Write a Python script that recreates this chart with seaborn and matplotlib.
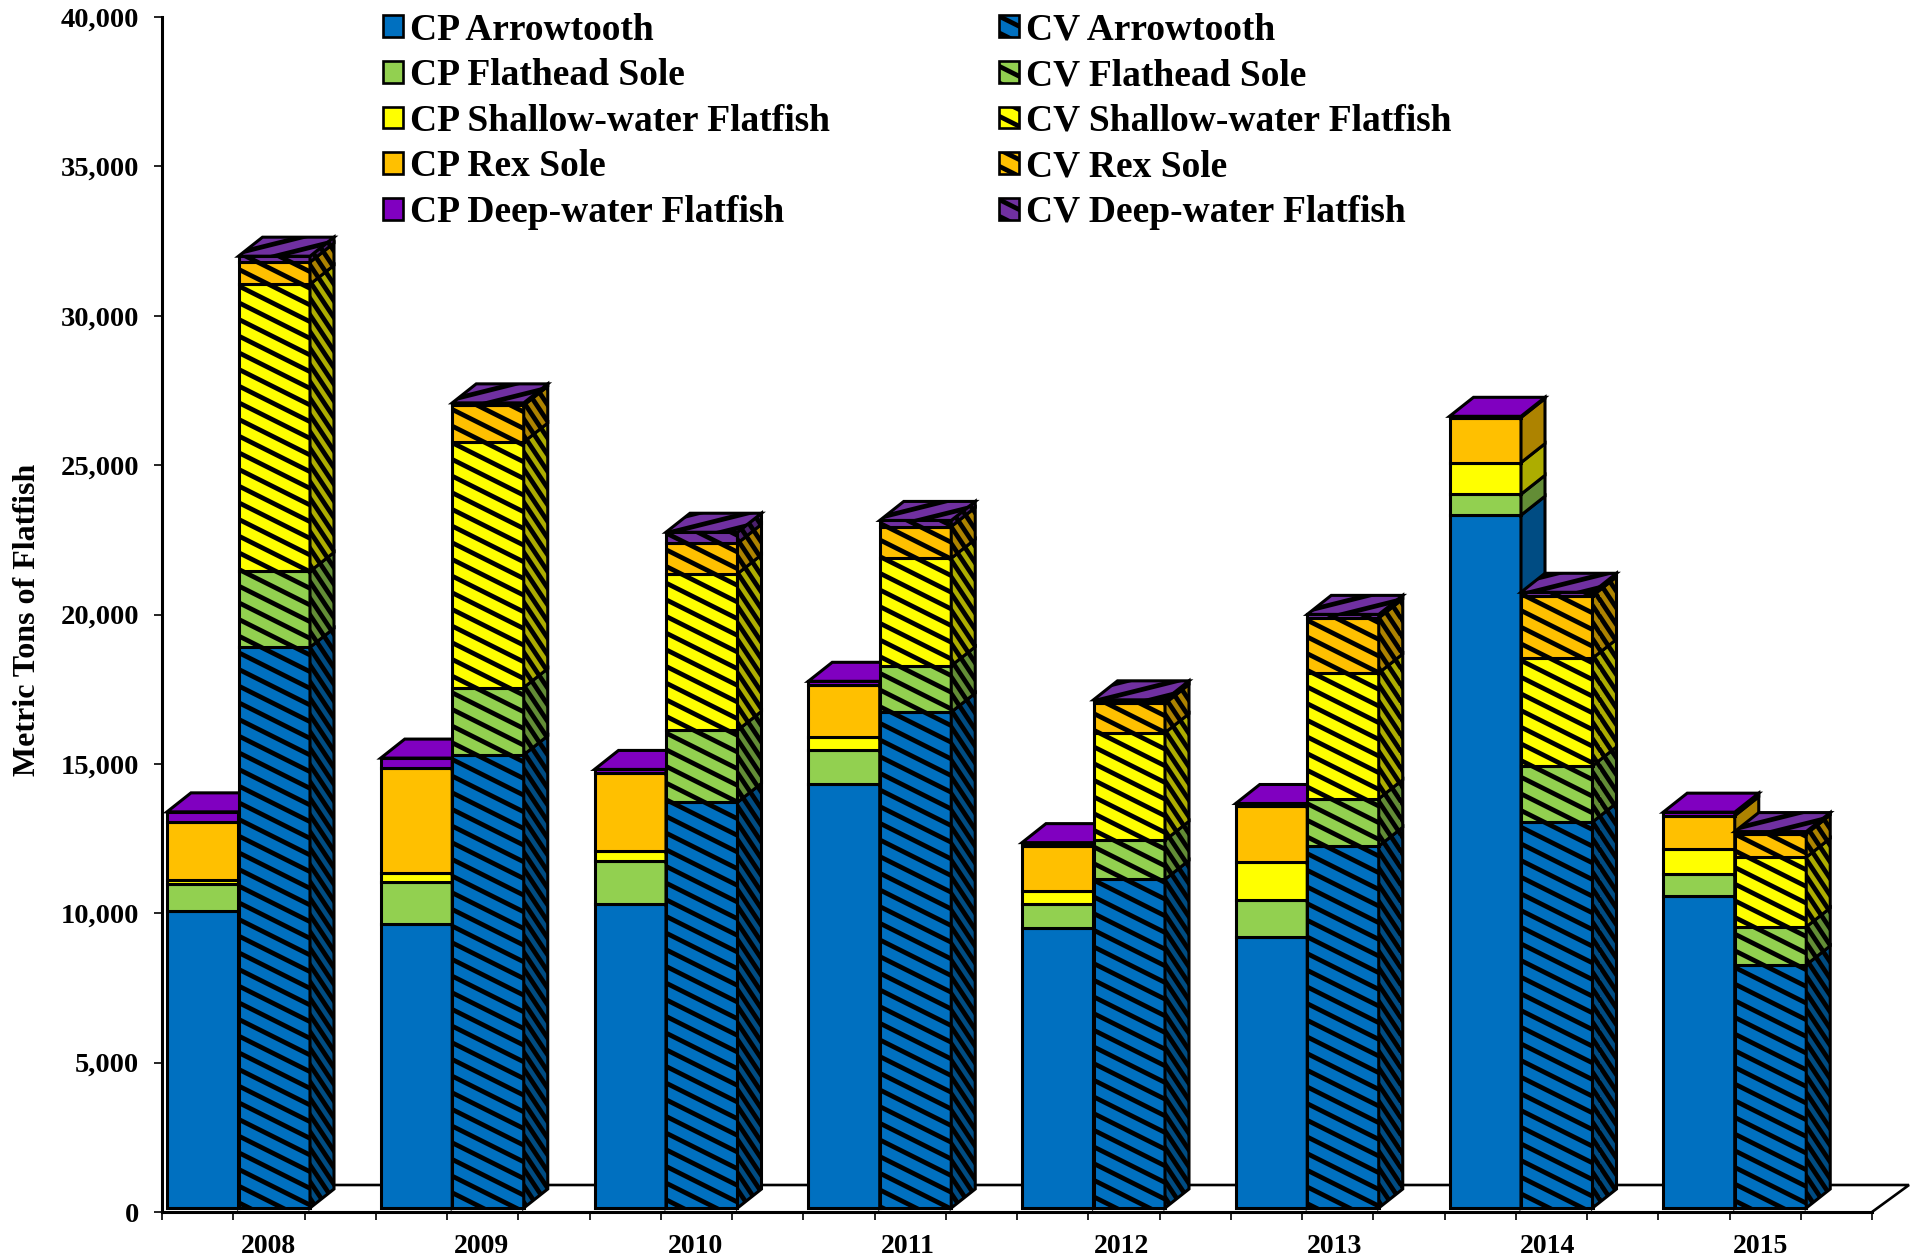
import numpy as np
import matplotlib
matplotlib.use('Agg')
import matplotlib.pyplot as plt
import matplotlib.hatch as mhatch
from matplotlib.patches import Patch, Polygon
from matplotlib.path import Path
from matplotlib.ticker import FuncFormatter, MultipleLocator
import seaborn as sns

# Data (metric tons, stacked bottom to top)
years = [2008, 2009, 2010, 2011, 2012, 2013, 2014, 2015]
species = ['Arrowtooth', 'Flathead Sole', 'Shallow-water Flatfish', 'Rex Sole', 'Deep-water Flatfish']

cp_arrowtooth = [9950, 9490, 10180, 14190, 9370, 9080, 23190, 10430]
cp_flathead = [900, 1430, 1430, 1150, 820, 1230, 700, 740]
cp_shallow = [120, 290, 330, 410, 410, 1270, 1060, 860]
cp_rex = [1960, 3520, 2620, 1760, 1510, 1880, 1510, 1100]
cp_deep = [330, 330, 120, 120, 120, 80, 40, 120]

cv_arrowtooth = [18770, 15170, 13580, 16600, 11000, 12110, 12920, 8140]
cv_flathead = [2540, 2250, 2410, 1550, 1310, 1590, 1880, 1270]
cv_shallow = [9610, 8220, 5240, 3600, 3600, 4210, 3600, 2330]
cv_rex = [740, 1230, 1020, 1060, 980, 1840, 2090, 780]
cv_deep = [200, 80, 370, 205, 120, 120, 120, 80]

cp_colors = ['#0070C0', '#92D050', '#FFFF00', '#FFC000', '#8000C0']
cv_colors = ['#0070C0', '#92D050', '#FFFF00', '#FFC000', '#7030A0']


# Office style hatches are not the 45 degree ones in matplotlib
class SlantHatch(mhatch.HatchPatternBase):
    char = '\\'
    lines = 6
    drop = 0.5

    def __init__(self, hatch, density):
        self.on = hatch.count(self.char) > 0
        self.n = self.lines + int(self.lines * abs(self.drop)) + 1
        self.num_vertices = self.n * 2 if self.on else 0

    def set_vertices_and_codes(self, vertices, codes):
        start = np.arange(self.n) / self.lines
        if self.drop < 0:
            start = start + self.drop
        vertices[0::2, 0] = 0.0
        vertices[0::2, 1] = start
        vertices[1::2, 0] = 1.0
        vertices[1::2, 1] = start - self.drop
        codes[0::2] = Path.MOVETO
        codes[1::2] = Path.LINETO


class TopHatch(SlantHatch):
    char = '/'
    lines = 8
    drop = -0.25


class SideHatch(SlantHatch):
    char = 'x'
    lines = 6
    drop = 1.5


mhatch._hatch_types = [t for t in mhatch._hatch_types
                       if t.__name__ not in ('SouthEastHatch', 'NorthEastHatch')] + [SlantHatch, TopHatch, SideHatch]

sns.set_style('white')
plt.rcParams['font.family'] = ['Liberation Serif', 'DejaVu Serif']
plt.rcParams['font.weight'] = 'bold'
plt.rcParams['hatch.linewidth'] = 3.4

W, H = 1911, 1259
fig = plt.figure(figsize=(W / 100, H / 100), dpi=100)
ax = fig.add_axes([162 / W, (H - 1212) / H, 1710 / W, 1195 / H])

PX_X = 8 / 1710
PX_Y = 40000 / 1195
BAR_W = 71.5 * PX_X
DEPTH_X = 24 * PX_X
DEPTH_Y = 19 * PX_Y
LIFT = 4 * PX_Y
CP_OFFSET = 5 * PX_X + BAR_W / 2
CV_OFFSET = CP_OFFSET + BAR_W
LW = 2.2


def shade(color, f=0.68):
    rgb = np.array(matplotlib.colors.to_rgb(color))
    return tuple(rgb * f)


def draw_stack(series, colors, offset, hatch, z):
    pos = np.arange(len(years)) + offset
    bottoms = np.full(len(years), LIFT, dtype=float)
    side_hatch = 'x' if hatch else None
    for vals, c in zip(series, colors):
        sns.barplot(x=pos, y=vals, bottom=bottoms, native_scale=True, width=BAR_W,
                    color=c, saturation=1, edgecolor='black', linewidth=LW,
                    hatch=hatch, errorbar=None, ax=ax, zorder=z)
        # side faces of the 3D bars
        for p, b, v in zip(pos, bottoms, vals):
            x0 = p + BAR_W / 2
            ax.add_patch(Polygon([(x0, b), (x0 + DEPTH_X, b + DEPTH_Y),
                                  (x0 + DEPTH_X, b + v + DEPTH_Y), (x0, b + v)],
                                 facecolor=shade(c), edgecolor='black', linewidth=LW,
                                 hatch=side_hatch, zorder=z, clip_on=False))
        bottoms = bottoms + np.array(vals)
    # top faces
    top_hatch = '/' if hatch else None
    for p, b in zip(pos, bottoms):
        x0 = p - BAR_W / 2
        x1 = p + BAR_W / 2
        ax.add_patch(Polygon([(x0, b), (x1, b), (x1 + DEPTH_X, b + DEPTH_Y), (x0 + DEPTH_X, b + DEPTH_Y)],
                             facecolor=colors[-1], edgecolor='black', linewidth=LW,
                             hatch=top_hatch, zorder=z + 0.1, clip_on=False))


# floor
floor_dx = 37 * PX_X
floor_dy = 27 * PX_Y
ax.add_patch(Polygon([(8, 0), (8 + floor_dx, floor_dy), (floor_dx, floor_dy)],
                     closed=False, fill=False, edgecolor='black', linewidth=1.9, zorder=1, clip_on=False))

draw_stack([cp_arrowtooth, cp_flathead, cp_shallow, cp_rex, cp_deep], cp_colors, CP_OFFSET, None, 3)
draw_stack([cv_arrowtooth, cv_flathead, cv_shallow, cv_rex, cv_deep], cv_colors, CV_OFFSET, '\\', 4)

ax.set_xlim(0, 8)
ax.set_ylim(0, 40000)
ax.set_xlabel('')
sns.despine(ax=ax)
for s in ['left', 'bottom']:
    ax.spines[s].set_linewidth(2.2)
    ax.spines[s].set_color('black')
    ax.spines[s].set_zorder(6)

ax.yaxis.set_major_locator(MultipleLocator(5000))
ax.yaxis.set_major_formatter(FuncFormatter(lambda v, _: f'{int(v):,}'))
ax.set_xticks(np.arange(25) / 3)
ax.set_xticklabels([])
ax.set_xticks(np.arange(len(years)) * 0.997 + 0.5, labels=[str(y) for y in years], minor=True)
ax.tick_params(axis='x', which='major', length=5.5, width=1.2, color='black', bottom=True)
ax.tick_params(axis='x', which='minor', length=0, pad=16, labelsize=20, labelcolor='black')
ax.tick_params(axis='y', length=5.5, width=1.2, color='black', left=True, pad=11, labelsize=20.5, labelcolor='black')

ax.set_ylabel('Metric Tons of Flatfish', fontsize=23, fontweight='bold', color='black')
ax.yaxis.set_label_coords((42 - 162) / 1710, (1212 - 620) / 1195)

handles = [Patch(facecolor=c, edgecolor='black', linewidth=1.9) for c in cp_colors] + \
          [Patch(facecolor=c, edgecolor='black', linewidth=1.9, hatch='\\') for c in cv_colors]
labels = ['CP ' + s for s in species] + ['CV ' + s for s in species]
ax.legend(handles, labels, ncol=2, frameon=False, fontsize=27, loc='upper left',
          bbox_to_anchor=((383 - 162) / 1710, 1.0037), borderaxespad=0, borderpad=0,
          handlelength=0.52, handleheight=0.52, handletextpad=0.21, columnspacing=4.5,
          labelspacing=0.283, labelcolor='black')

fig.savefig('out.png', dpi=100, facecolor='white')
